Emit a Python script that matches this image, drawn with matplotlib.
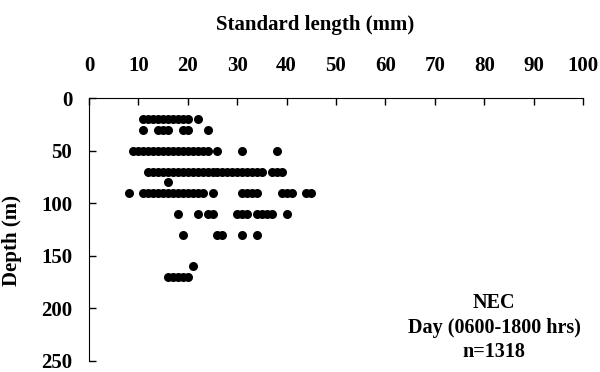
import matplotlib
matplotlib.use("Agg")
import matplotlib.pyplot as plt

# Standard lengths (mm) caught at each depth (m)
depths = [20, 30, 50, 70, 80, 90, 110, 130, 160, 170]
lengths = {
    20: list(range(11, 20)) + [20, 22],
    30: [11, 14, 15, 16, 19, 20, 24],
    50: list(range(9, 25)) + [26, 31, 38],
    70: list(range(12, 36)) + [37, 38, 39],
    80: [16],
    90: [8] + list(range(11, 24)) + [25, 31, 32, 33, 34, 39, 40, 41, 44, 45],
    110: [18, 22, 24, 25, 30, 31, 32, 34, 35, 36, 37, 40],
    130: [19, 26, 27, 31, 34],
    160: [21],
    170: [16, 17, 18, 19, 20],
}
x_ticks = [0, 10, 20, 30, 40, 50, 60, 70, 80, 90, 100]
y_ticks = [0, 50, 100, 150, 200, 250]
note = ["NEC", "Day (0600-1800 hrs)", "n=1318"]

plt.rcParams["font.family"] = ["Liberation Serif", "DejaVu Serif"]
plt.rcParams["font.weight"] = "bold"

fig = plt.figure(figsize=(6, 3.72), dpi=100)
top, bottom = 98, 361
ax = fig.add_axes([89 / 600, 1 - bottom / 372, (583 - 89) / 600, (bottom - top) / 372])
h = bottom - top

for d in depths:
    xs = lengths[d]
    ax.plot(xs, [d] * len(xs), "o", color="black", markersize=6.5, markeredgewidth=0)

ax.set_xlim(0, 100)
ax.set_ylim(250, 0)
ax.set_xticks(x_ticks)
ax.set_yticks(y_ticks)
ax.xaxis.tick_top()
ax.xaxis.set_label_position("top")
ax.tick_params(axis="x", direction="in", length=5, width=1, pad=16, labelsize=15)
ax.tick_params(axis="y", direction="in", length=5, width=1, pad=12, labelsize=15)
ax.set_xlabel("Standard length (mm)", fontsize=15, fontweight="bold")
ax.xaxis.set_label_coords((315 - 89) / 494, 1 + (top - 30) / h)
ax.set_ylabel("Depth (m)", fontsize=15, fontweight="bold")
ax.yaxis.set_label_coords(-(89 - 22) / 494, 1 - (240 - top) / h)

ax.spines["right"].set_visible(False)
ax.spines["bottom"].set_visible(False)

for i, line in enumerate(note):
    ax.text(0.82, 1 - (303 - top + i * 24.5) / h, line, transform=ax.transAxes,
            ha="center", va="center", fontsize=14.5, fontweight="bold")

fig.savefig("out.png", dpi=100)
